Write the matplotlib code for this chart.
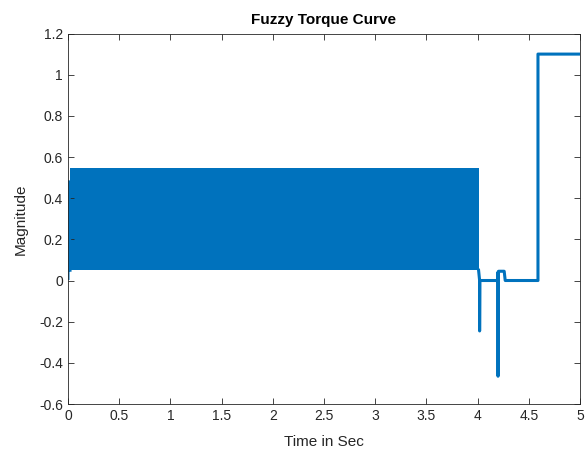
import matplotlib.pyplot as plt

# Oscillating band (dense switching) envelope, 0 -> 4 s
band_t = [0.02, 4.01]
band_low = [0.05, 0.05]
band_high = [0.548, 0.548]

# Trace outside the band
line_t = [0.0, 0.005, 0.01, 0.02]
line_y = [0.01, 0.48, 0.48, 0.05]

tail_t = [4.01, 4.02, 4.02, 4.022, 4.195, 4.198, 4.2, 4.202, 4.205, 4.26, 4.27, 4.59, 4.59, 5.0]
tail_y = [0.05, 0.0, -0.245, 0.0, 0.0, 0.04, -0.465, 0.0, 0.045, 0.045, 0.0, 0.0, 1.1, 1.1]

blue = '#0072BD'
plt.rcParams['font.family'] = ['Liberation Sans', 'DejaVu Sans']

fig = plt.figure(figsize=(5.87, 4.51), dpi=100)
ax = fig.add_axes([0.1158, 0.1042, 0.8722, 0.8215])

ax.fill_between(band_t, band_low, band_high, color=blue, linewidth=0)
ax.plot(line_t, line_y, color=blue, linewidth=2.2)
ax.plot(tail_t, tail_y, color=blue, linewidth=2.2, solid_joinstyle='round')

ax.set_xlim(0, 5)
ax.set_ylim(-0.6, 1.2)
ax.set_xticks([0, 0.5, 1, 1.5, 2, 2.5, 3, 3.5, 4, 4.5, 5])
ax.set_xticklabels(['0', '0.5', '1', '1.5', '2', '2.5', '3', '3.5', '4', '4.5', '5'])
ax.set_yticks([-0.6, -0.4, -0.2, 0, 0.2, 0.4, 0.6, 0.8, 1, 1.2])
ax.set_yticklabels(['-0.6', '-0.4', '-0.2', '0', '0.2', '0.4', '0.6', '0.8', '1', '1.2'])

ax.tick_params(direction='in', top=True, right=True, length=4, width=0.6,
               colors='#262626', labelsize=10)
for s in ax.spines.values():
    s.set_linewidth(0.6)
    s.set_color('#262626')

ax.set_title('Fuzzy Torque Curve', fontsize=11, fontweight='bold', color='black', pad=7)
ax.set_xlabel('Time in Sec', fontsize=11, color='#262626', labelpad=9)
ax.set_ylabel('Magnitude', fontsize=11, color='#262626', labelpad=8)

fig.savefig('out.png', dpi=100)
